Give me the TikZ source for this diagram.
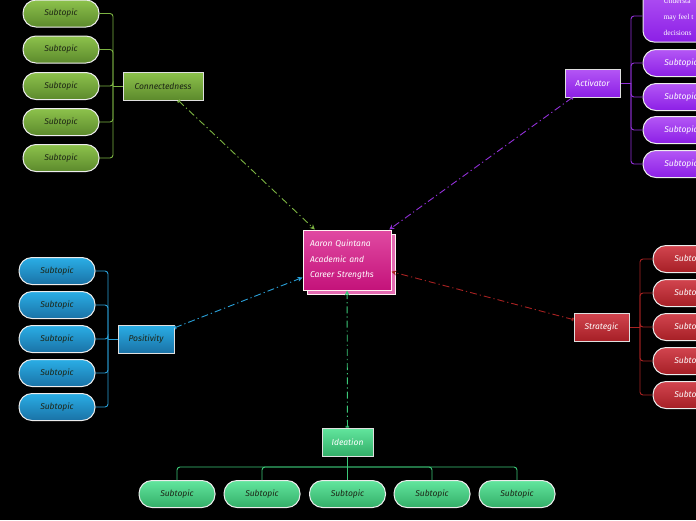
\documentclass[tikz,border=0pt]{standalone}
\usepackage{fontspec}
\setmainfont{Fira Sans}
\newfontfamily\notefont{Liberation Serif}
\usetikzlibrary{arrows.meta}
\definecolor{gTop}{HTML}{8DC24C}\definecolor{gBot}{HTML}{5C8A2C}\definecolor{gLine}{HTML}{7CB342}
\definecolor{bTop}{HTML}{2AAEE6}\definecolor{bBot}{HTML}{1A72A6}\definecolor{bLine}{HTML}{2AA0D8}
\definecolor{pTop}{HTML}{B457F5}\definecolor{pBot}{HTML}{8C1FE6}\definecolor{pLine}{HTML}{9230D8}
\definecolor{rTop}{HTML}{D2454F}\definecolor{rBot}{HTML}{A61F26}\definecolor{rLine}{HTML}{A82222}
\definecolor{iTop}{HTML}{62E69E}\definecolor{iBot}{HTML}{33AE68}\definecolor{iLine}{HTML}{3CC878}
\definecolor{cTop}{HTML}{E04AA2}\definecolor{cBot}{HTML}{C4127A}\definecolor{cShadow}{HTML}{E46AB2}
\definecolor{darkTxt}{HTML}{1C2414}
\tikzset{
  x=1pt, y=-1pt,
  every node/.style={font=\itshape\fontsize{8.5}{10}\selectfont},
  pill/.style={rectangle, rounded corners=13pt, minimum width=76pt, minimum height=27pt,
    draw=white!85!gray, line width=1pt, inner sep=0pt},
  box/.style={rectangle, draw=white!75!gray, line width=1pt, minimum height=28pt, inner sep=3pt},
  gshade/.style={top color=gTop, bottom color=gBot, text=darkTxt},
  bshade/.style={top color=bTop, bottom color=bBot, text=darkTxt},
  pshade/.style={top color=pTop, bottom color=pBot, text=white},
  rshade/.style={top color=rTop, bottom color=rBot, text=white},
  ishade/.style={top color=iTop, bottom color=iBot},
  bracket/.style={line width=0.9pt, rounded corners=3pt},
  link/.style={line width=0.9pt, dash pattern=on 7pt off 3pt on 1.2pt off 3pt,
    {Bar[width=3.5pt,line width=0.8pt]Bar[width=3.5pt,line width=0.8pt]}-{Stealth[length=5pt,width=5pt]}},
}
\begin{document}
\begin{tikzpicture}
\fill[black] (0,0) rectangle (696,520);
\clip (0,0) rectangle (696,520);

% central topic
\node[rectangle, draw=white!80!pink, line width=1pt, fill=cShadow, minimum width=88pt, minimum height=60pt] (cs) at (351,264) {};
\node[rectangle, draw=white!80!pink, line width=1pt, top color=cTop, bottom color=cBot, text=white,
  minimum width=88pt, minimum height=60pt, text width=74pt, inner xsep=7pt, align=left,
  font=\itshape\fontsize{8.5}{15.5}\selectfont] (c) at (347,260)
  {Aaron Quintana\\Academic and\\Career Strengths};

% Connectedness
\node[box, gshade, minimum width=80pt] (con) at (163,86) {Connectedness};
\coordinate (cj) at (113,86);
\foreach \yy [count=\i] in {13.5,49.5,86,122,158} {
  \node[pill, gshade] (g\i) at (61,\yy) {Subtopic};
  \draw[bracket, gLine] (g\i.east) -| (cj);
}
\draw[gLine, line width=0.9pt] (cj) -- (con.west);
\draw[link, gLine] (con) -- (c);

% Activator
\node[box, pshade, minimum width=55pt] (act) at (592.5,83) {Activator};
\coordinate (aj) at (631,83);
\node[rectangle, rounded corners=11pt, draw=white!85!gray, line width=1pt, top color=pTop, bottom color=pBot,
  minimum width=120pt, minimum height=56pt] (abig) at (703,14) {};
\node[anchor=west, align=left, text=white, font=\notefont\fontsize{7.5}{16}\selectfont] (atext) at (660,17)
  {Understa\\may feel t\\decisions};
\draw[bracket, pLine] (abig.west |- 0,16) -| (aj);
\foreach \yy [count=\i] in {63,97,130,164} {
  \node[pill, pshade] (p\i) at (681,\yy) {Subtopic};
  \draw[bracket, pLine] (p\i.west) -| (aj);
}
\draw[pLine, line width=0.9pt] (aj) -- (act.east);
\draw[link, pLine] (act) -- (c);

% Strategic
\node[box, rshade, minimum width=55pt] (str) at (601.5,327) {Strategic};
\coordinate (sj) at (640,327);
\foreach \yy [count=\i] in {259,293,327,361,395} {
  \node[pill, rshade] (r\i) at (691,\yy) {Subtopic};
  \draw[bracket, rLine] (r\i.west) -| (sj);
}
\draw[rLine, line width=0.9pt] (sj) -- (str.east);
\draw[link, rLine] (str) -- (c);

% Positivity
\node[box, bshade, minimum width=56pt] (pos) at (146,339) {Positivity};
\coordinate (pj) at (108,339);
\foreach \yy [count=\i] in {271,305,339,373,407} {
  \node[pill, bshade] (b\i) at (57,\yy) {Subtopic};
  \draw[bracket, bLine] (b\i.east) -| (pj);
}
\draw[bLine, line width=0.9pt] (pj) -- (pos.west);
\draw[link, bLine] (pos) -- (c);

% Ideation
\node[box, ishade, text=white, minimum width=51pt] (ide) at (347.5,442) {Ideation};
\coordinate (ij) at (347.5,467);
\foreach \xx [count=\i] in {177,262,347.5,432,517} {
  \node[pill, ishade, text=darkTxt] (i\i) at (\xx,494) {Subtopic};
  \draw[bracket, iLine] (i\i.north) |- (ij);
}
\draw[iLine, line width=0.9pt] (ij) -- (ide.south);
\draw[link, iLine] (ide) -- (c);
\end{tikzpicture}
\end{document}
